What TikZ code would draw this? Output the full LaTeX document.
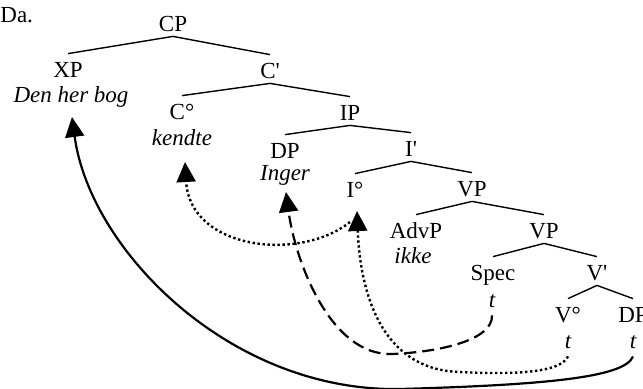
\documentclass[tikz,border=0pt]{standalone}
\usepackage{fontspec}
\setmainfont{Liberation Serif}[Ligatures=TeXOff]
\usetikzlibrary{arrows.meta}

\newcommand{\treefont}{\fontsize{11.5pt}{14pt}\selectfont}

\begin{document}
\begin{tikzpicture}[x=0.5pt, y=-0.5pt,
	cat/.style={inner sep=0pt, anchor=base, text height=11.5pt, text depth=2.5pt, font=\treefont},
	word/.style={inner sep=0pt, anchor=base, font=\treefont\itshape},
	trace/.style={inner sep=0pt, anchor=base, text depth=4pt, font=\treefont\itshape},
	branch/.style={line width=0.7pt},
	move/.style={line width=1.1pt, -{Triangle[length=10pt, width=9.5pt]}},
	dotmove/.style={move, line width=1.2pt, dash pattern=on 1.2pt off 1.3pt},
	dashmove/.style={move, dash pattern=on 6pt off 3pt}]
	
	\useasboundingbox (0,0) rectangle (643,388);
	
	\node[inner sep=0pt, anchor=base west, font=\treefont] (ex) at (0, 22) {Da.};
	
	\node[cat] (CP) at (173, 31)     {CP};
	\node[cat] (XP) at (68, 77)      {XP};
	\node[word] (bog) at (71, 102)   {Den her bog};
	\node[cat] (C1) at (270, 78)     {C'};
	\node[cat] (C0) at (182, 119)    {C°};
	\node[word] (kendte) at (182, 145) {kendte};
	\node[cat] (IP) at (350, 120)    {IP};
	\node[cat] (DP) at (285, 158)    {DP};
	\node[word] (Inger) at (285, 180) {Inger};
	\node[cat] (I1) at (411, 156)    {I'};
	\node[cat] (I0) at (355, 197)    {I°};
	\node[cat] (VP) at (472, 196)    {VP};
	\node[cat] (AdvP) at (416, 238)  {AdvP};
	\node[word] (ikke) at (413, 263) {ikke};
	\node[cat] (VP2) at (544, 238)   {VP};
	\node[cat] (Spec) at (493, 280)  {Spec};
	\node[trace] (tSpec) at (492, 307) {t};
	\node[cat] (V1) at (597, 280)    {V'};
	\node[cat] (V0) at (568, 322)    {V°};
	\node[cat] (DPo) at (633, 322)   {DP};
	\node[trace] (tV) at (568, 348)  {t};
	\node[trace] (tDP) at (633, 348) {t};
	
	\path[branch] (CP.south) edge (XP.north);
	\path[branch] (CP.south) edge (C1.north);
	\path[branch] (C1.south) edge (C0.north);
	\path[branch] (C1.south) edge (IP.north);
	\path[branch] (IP.south) edge (DP.north);
	\path[branch] (IP.south) edge (I1.north);
	\path[branch] (I1.south) edge (I0.north);
	\path[branch] (I1.south) edge (VP.north);
	\path[branch] (VP.south) edge (AdvP.north);
	\path[branch] (VP.south) edge (VP2.north);
	\path[branch] (VP2.south) edge (Spec.north);
	\path[branch] (VP2.south) edge (V1.north);
	\path[branch] (V1.south) edge (V0.north);
	\path[branch] (V1.south) edge (DPo.north);
	
	\draw[move] (tDP.south) .. controls (625, 378) and (540, 385) .. (400, 389)
		.. controls (230, 392) and (90, 250) .. ([xshift=0.5pt, yshift=-7.5pt]bog.base);
	\draw[dashmove] (tSpec.south) .. controls (493, 340) and (440, 352) .. (392, 354)
		.. controls (330, 356) and (295, 260) .. ([xshift=0.5pt, yshift=-6pt]Inger.base);
	\draw[dotmove] (tV.south) .. controls (560, 375) and (500, 374) .. (460, 372)
		.. controls (380, 370) and (360, 290) .. ([xshift=1pt, yshift=-7pt]I0.base);
	\draw[dotmove] ([xshift=-2.5pt, yshift=-12.5pt]I0.base) .. controls (300, 262) and (190, 250) .. ([xshift=1.5pt, yshift=-8.5pt]kendte.base);
	
\end{tikzpicture}
\end{document}
